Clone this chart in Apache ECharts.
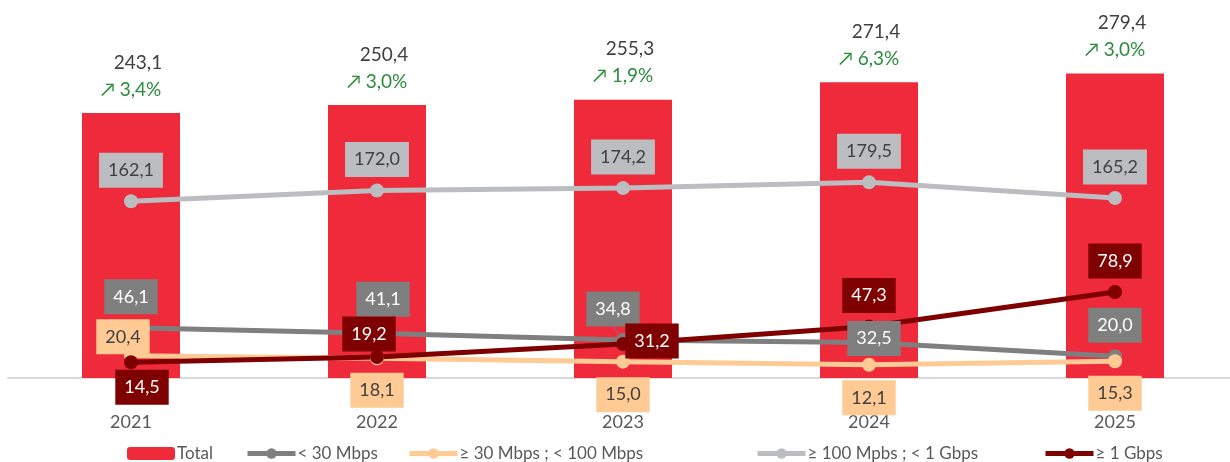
<!DOCTYPE html>
<html>
<head>
<meta charset="utf-8">
<script src="https://cdn.jsdelivr.net/npm/echarts@6/dist/echarts.min.js"></script>
<style>
  html, body { margin: 0; padding: 0; background: #fff; }
  #chart { width: 1230px; height: 462px; }
</style>
</head>
<body>
<div id="chart"></div>
<script>
const years = ['2021', '2022', '2023', '2024', '2025']
const total = [243.1, 250.4, 255.3, 271.4, 279.4]
const growth = [3.4, 3.0, 1.9, 6.3, 3.0]
const below30 = [46.1, 41.1, 34.8, 32.5, 20.0]
const from30to100 = [20.4, 18.1, 15.0, 12.1, 15.3]
const from100to1g = [162.1, 172.0, 174.2, 179.5, 165.2]
const above1g = [14.5, 19.2, 31.2, 47.3, 78.9]
const legendNames = ['Total', '< 30 Mbps', '≥ 30 Mbps ; < 100 Mbps', '≥ 100 Mpbs ; < 1 Gbps', '≥ 1 Gbps']

// where each value box sits relative to its point
const offsets = {
  below30: [[0, -31], [6, -34], [-10, -31], [5, -4], [0, -31]],
  from30to100: [[-8, -19], [0, 32], [0, 33], [0, 33], [0, 32]],
  from100to1g: [[0, -31], [0, -31], [0, -31], [0, -31], [0, -31]],
  above1g: [[11, 25], [-8, -23], [29, -3], [0, -31], [0, -31]]
}
// left edge of each legend item, as in the original
const legendLefts = [122, 240, 402, 750, 1038]

const font = 'Lato, "Open Sans", sans-serif'
const fmt = v => v.toFixed(1).replace('.', ',')

function lineSeries(name, values, offs, color, textColor, leaders) {
  return {
    name: name,
    type: 'line',
    data: values.map((v, i) => ({
      value: v,
      label: { offset: offs[i] },
      labelLine: { show: !!(leaders && leaders[i]), lineStyle: { color: color, width: 1 } }
    })),
    symbol: 'circle',
    symbolSize: 14,
    lineStyle: { color: color, width: 5 },
    itemStyle: { color: color },
    label: {
      show: true,
      position: 'inside',
      formatter: p => fmt(p.value),
      fontFamily: font,
      fontSize: 18,
      lineHeight: 19,
      color: textColor,
      backgroundColor: color,
      padding: [8, 9]
    },
    emphasis: { disabled: true },
    z: 3
  }
}

let myChart = echarts.init(document.getElementById('chart'))
myChart.setOption({
  animation: false,
  textStyle: { fontFamily: font },
  grid: { left: 8, width: 1230, top: 51, bottom: 84, outerBoundsMode: 'none', containLabel: false },
  xAxis: {
    type: 'category',
    data: years,
    axisLine: { lineStyle: { color: '#D9D9D9', width: 2 } },
    axisTick: { show: false },
    axisLabel: { color: '#595959', fontSize: 18, margin: 35, fontFamily: font }
  },
  yAxis: {
    type: 'value',
    min: 0,
    max: 300,
    show: false,
    splitLine: { show: false }
  },
  legend: legendNames.map((n, i) => ({
    data: [n],
    left: legendLefts[i],
    top: 440,
    itemWidth: 48,
    itemHeight: 13,
    itemGap: 0,
    lineStyle: { width: 5 },
    textStyle: { color: '#595959', fontSize: 17, fontFamily: font, padding: [0, 0, 0, -3] }
  })),
  series: [
    {
      name: 'Total',
      type: 'bar',
      data: total,
      barWidth: 98,
      itemStyle: { color: '#EE2A3B' },
      emphasis: { disabled: true },
      label: {
        show: true,
        position: 'top',
        distance: 10,
        formatter: p => `{v|${fmt(p.value)}}\n{g|↗ ${fmt(growth[p.dataIndex])}%}`,
        rich: {
          v: { fontSize: 19, color: '#404040', lineHeight: 27, padding: [0, 0, 0, 14], fontFamily: font },
          g: { fontSize: 19, color: '#2E8B3E', lineHeight: 27, fontFamily: font }
        }
      },
      z: 2
    },
    lineSeries('≥ 100 Mpbs ; < 1 Gbps', from100to1g, offsets.from100to1g, '#BCBDC0', '#404040'),
    lineSeries('< 30 Mbps', below30, offsets.below30, '#7F7F7F', '#ffffff', [0, 0, 1, 0, 0]),
    lineSeries('≥ 30 Mbps ; < 100 Mbps', from30to100, offsets.from30to100, '#FFCA94', '#404040'),
    lineSeries('≥ 1 Gbps', above1g, offsets.above1g, '#7F0000', '#ffffff')
  ]
})
</script>
</body>
</html>
